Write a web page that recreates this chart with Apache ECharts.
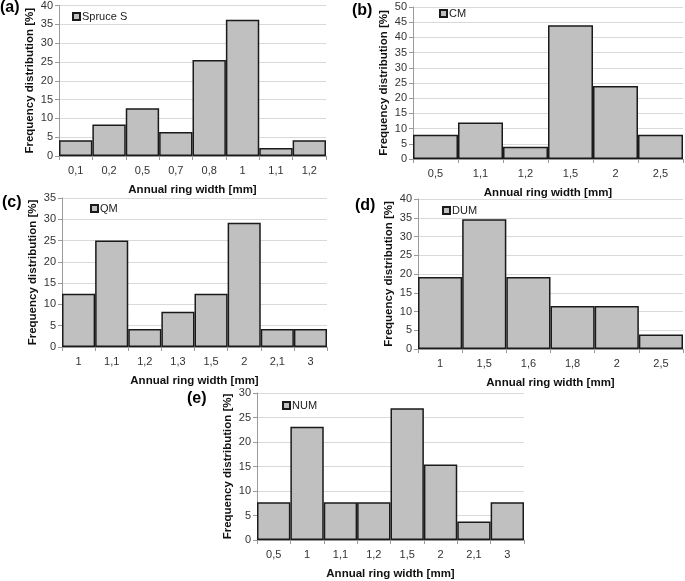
<!DOCTYPE html>
<html><head><meta charset="utf-8">
<script src="https://cdn.jsdelivr.net/npm/echarts@6/dist/echarts.min.js"></script>
<style>html,body{margin:0;padding:0;background:#fff}#c{width:685px;height:581px}</style>
</head><body><div id="c"></div>
<script>
const catA = ['0,1','0,2','0,5','0,7','0,8','1','1,1','1,2'];
const valA = [4.2, 8.4, 12.7, 6.4, 25.5, 36.2, 2.1, 4.2];
const catB = ['0,5','1,1','1,2','1,5','2','2,5'];
const valB = [8, 12, 4, 44, 24, 8];
const catC = ['1','1,1','1,2','1,3','1,5','2','2,1','3'];
const valC = [12.5, 25, 4.2, 8.3, 12.5, 29.2, 4.2, 4.2];
const catD = ['1','1,5','1,6','1,8','2','2,5'];
const valD = [19.2, 34.6, 19.2, 11.5, 11.5, 3.9];
const catE = ['0,5','1','1,1','1,2','1,5','2','2,1','3'];
const valE = [7.7, 23.1, 7.7, 7.7, 26.9, 15.4, 3.8, 7.7];
const names = ['Spruce S','CM','QM','DUM','NUM'];
const panelLabels = ['(a)','(b)','(c)','(d)','(e)'];
const yMax = [40, 50, 35, 40, 30];

const cats = [catA, catB, catC, catD, catE];
const vals = [valA, valB, valC, valD, valE];

const FONT = 'Liberation Sans';
const grids = [
  {left: 59, top: 5, width: 267, height: 151},
  {left: 413, top: 7, width: 270, height: 152},
  {left: 62, top: 198, width: 265, height: 149},
  {left: 418, top: 199, width: 265, height: 150},
  {left: 257, top: 393, width: 267, height: 152}
];
const legendPos = [
  {left: 72, top: 11},
  {left: 439, top: 8},
  {left: 90, top: 203},
  {left: 442, top: 205},
  {left: 282, top: 400}
];
const labelPos = [
  {left: 0, top: 0},
  {left: 352, top: 3},
  {left: 2, top: 195},
  {left: 355, top: 198},
  {left: 187, top: 391}
];

const option = {
  animation: false,
  textStyle: {fontFamily: FONT},
  title: panelLabels.map((t, i) => ({
    text: t, left: labelPos[i].left, top: labelPos[i].top, padding: 0,
    textStyle: {fontFamily: FONT, fontSize: 16, fontWeight: 'bold', color: '#000'}
  })),
  legend: names.map((n, i) => ({
    data: [n], left: legendPos[i].left, top: legendPos[i].top, padding: 0,
    icon: 'rect', itemWidth: 7, itemHeight: 7, itemGap: 0,
    textStyle: {fontFamily: FONT, fontSize: 11, color: '#222', padding: [0, 0, 0, -3]}
  })),
  grid: grids.map(g => Object.assign({containLabel: false}, g)),
  xAxis: cats.map((c, i) => ({
    type: 'category', gridIndex: i, data: c, boundaryGap: true,
    name: 'Annual ring width [mm]', nameLocation: 'middle', nameGap: 28,
    nameTextStyle: {fontFamily: FONT, fontSize: 11.5, fontWeight: 'bold', color: '#111'},
    axisLine: {show: true, lineStyle: {color: '#9a9a9a', width: 1}},
    axisTick: {show: true, length: 4, lineStyle: {color: '#9a9a9a'}},
    axisLabel: {fontFamily: FONT, fontSize: 11, color: '#333', margin: 9}
  })),
  yAxis: yMax.map((m, i) => ({
    type: 'value', gridIndex: i, min: 0, max: m, interval: 5,
    name: 'Frequency distribution [%]', nameLocation: 'middle', nameGap: 23,
    nameTextStyle: {fontFamily: FONT, fontSize: 11.5, fontWeight: 'bold', color: '#111'},
    axisLine: {show: true, lineStyle: {color: '#9a9a9a', width: 1}},
    axisTick: {show: true, length: 4, lineStyle: {color: '#9a9a9a'}},
    axisLabel: {fontFamily: FONT, fontSize: 11, color: '#333', margin: 6},
    splitLine: {show: true, lineStyle: {color: '#d9d9d9', width: 1}}
  })),
  series: vals.map((v, i) => ({
    type: 'bar', name: names[i], xAxisIndex: i, yAxisIndex: i, data: v,
    barCategoryGap: '0%',
    itemStyle: {color: '#c0c0c0', borderColor: '#1a1a1a', borderWidth: 1.5}
  }))
};
const chart = echarts.init(document.getElementById('c'), null, {renderer: 'canvas'});
chart.setOption(option);
</script></body></html>
